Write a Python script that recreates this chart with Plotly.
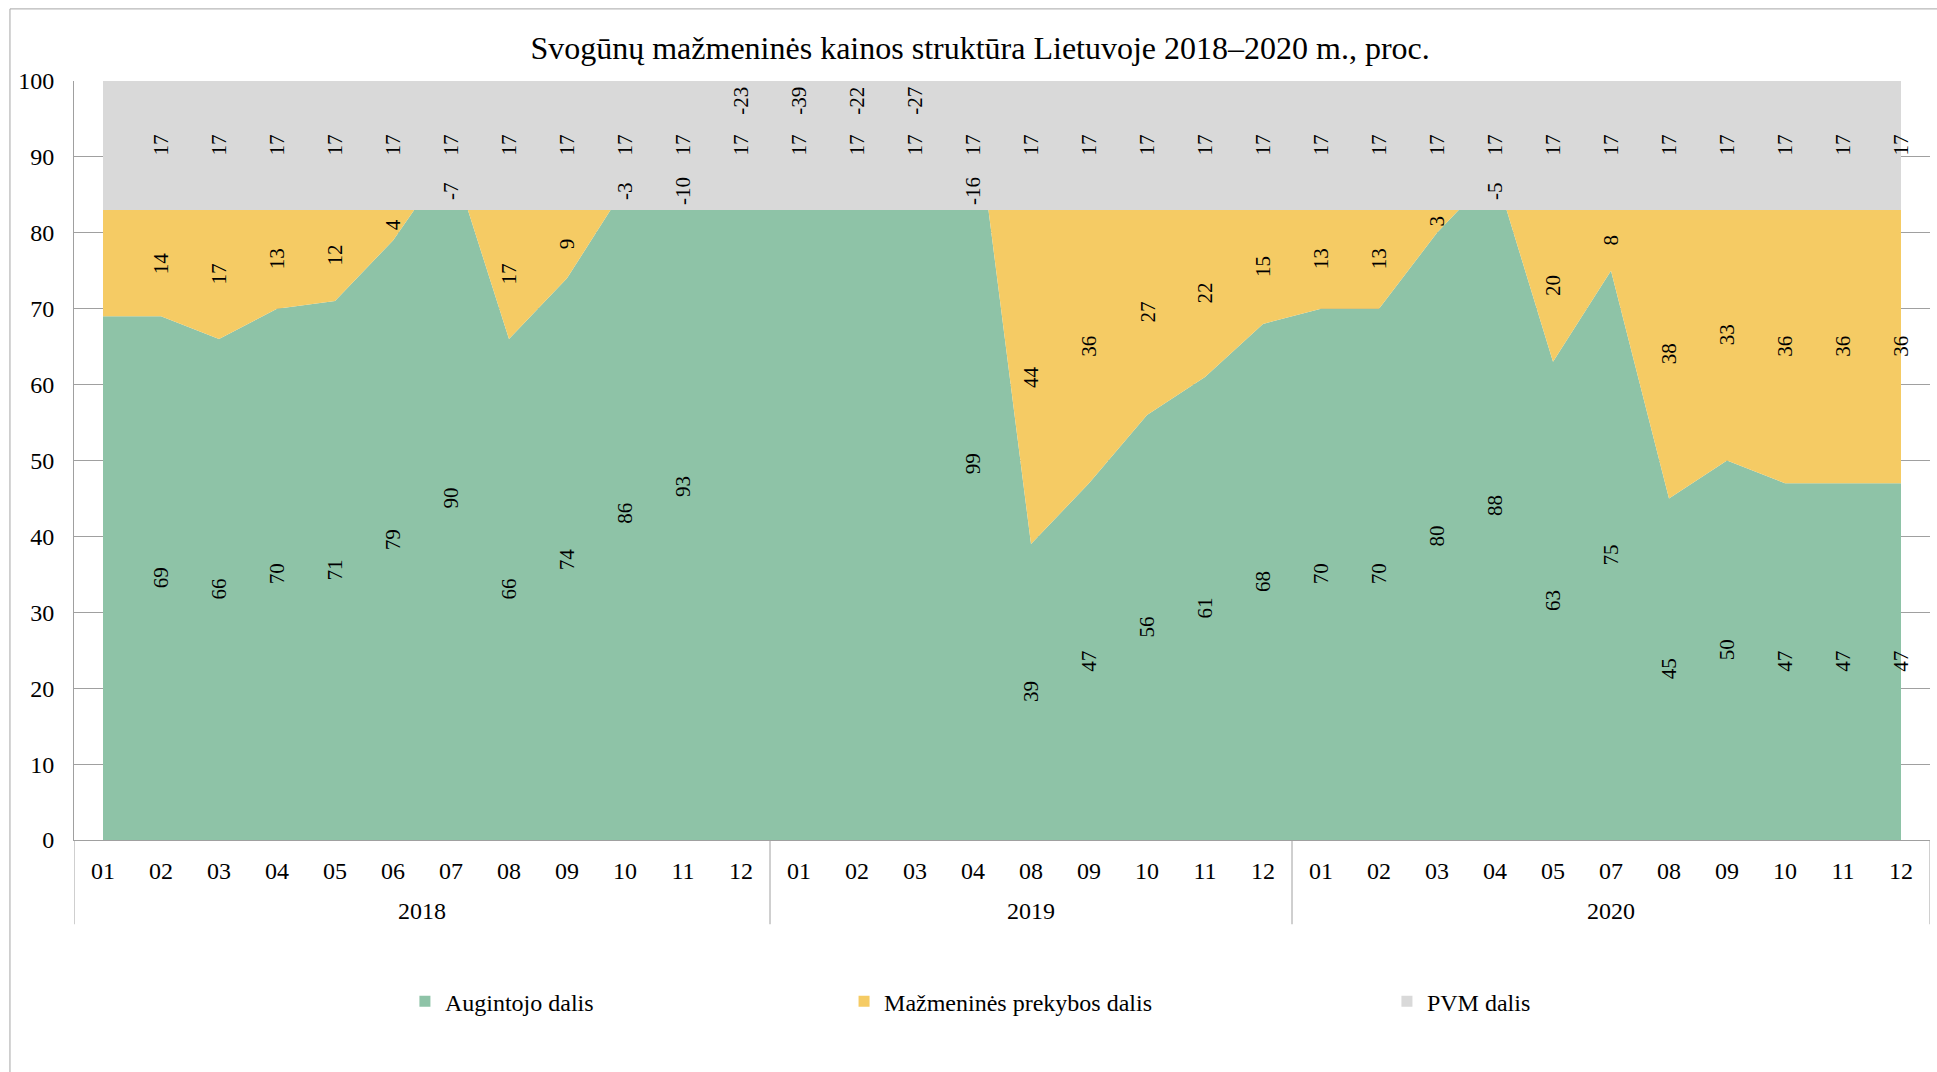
import plotly.graph_objects as go

# Category axis: year group and month of each observation
years = ["2018"] * 12 + ["2019"] * 9 + ["2020"] * 11
months = [
    "01", "02", "03", "04", "05", "06", "07", "08", "09", "10", "11", "12",
    "01", "02", "03", "04", "08", "09", "10", "11", "12",
    "01", "02", "03", "04", "05", "07", "08", "09", "10", "11", "12",
]

# Shares of the retail price, %
grower_share = [
    69, 69, 66, 70, 71, 79, 90, 66, 74, 86, 93, 106,
    122, 105, 110, 99, 39, 47, 56, 61, 68,
    70, 70, 80, 88, 63, 75, 45, 50, 47, 47, 47,
]
retail_share = [
    14, 14, 17, 13, 12, 4, -7, 17, 9, -3, -10, -23,
    -39, -22, -27, -16, 44, 36, 27, 22, 15,
    13, 13, 3, -5, 20, 8, 38, 33, 36, 36, 36,
]
vat_share = [
    17, 17, 17, 17, 17, 17, 17, 17, 17, 17, 17, 17,
    17, 17, 17, 17, 17, 17, 17, 17, 17,
    17, 17, 17, 17, 17, 17, 17, 17, 17, 17, 17,
]

series_names = ["Augintojo dalis", "Mažmeninės prekybos dalis", "PVM dalis"]
title_text = "Svogūnų mažmeninės kainos struktūra Lietuvoje 2018–2020 m., proc."

FONT = "Liberation Serif"
GREEN = "#8EC3A7"
YELLOW = "#F5CB64"
GREY = "#D9D9D9"
LINE = "#A0A0A0"

Y_MAX = 100
n = len(months)
pos = list(range(n))  # one slot per month on the category axis

fig = go.Figure()

# Stacked areas (drawn in order, VAT on top)
for name, vals, col in zip(series_names, [grower_share, retail_share, vat_share],
                           [GREEN, YELLOW, GREY]):
    fig.add_trace(go.Scatter(
        x=pos, y=vals, name=name, stackgroup="price", mode="none",
        fillcolor=col, showlegend=False,
        customdata=[f"{y}-{m}" for y, m in zip(years, months)],
        hovertemplate="%{customdata}: %{y}<extra>" + name + "</extra>",
    ))

# Legend swatches, one legend per entry so each can sit at its own spot
legend_ids = ["legend", "legend2", "legend3"]
for name, col, lg in zip(series_names, [GREEN, YELLOW, GREY], legend_ids):
    fig.add_trace(go.Scatter(
        x=[None], y=[None], name=name, mode="markers",
        marker=dict(symbol="square", size=11, color=col),
        legend=lg, showlegend=True, hoverinfo="skip",
    ))

# Rotated value labels in the middle of each band
label_font = dict(family=FONT, size=21, color="#000000")
annotations = []
for i in range(1, n):  # the opening month carries no labels
    g, r, v = grower_share[i], retail_share[i], vat_share[i]
    top_gr = g + r
    if g <= Y_MAX:
        annotations.append(dict(x=pos[i], y=g / 2, text=str(g)))
    if r >= 0:
        y_r = g + r / 2
    elif g <= Y_MAX:
        y_r = top_gr + 2.5
    else:
        y_r = 97.4
    annotations.append(dict(x=pos[i], y=y_r, text=str(r)))
    annotations.append(dict(x=pos[i], y=top_gr + v / 2, text=str(v)))

for a in annotations:
    a.update(xref="x", yref="y", showarrow=False, textangle=-90,
             font=label_font, xanchor="center", yanchor="middle")

# Year group labels and the dividers between groups
group_years = list(dict.fromkeys(years))
shapes = []
DIV_BOTTOM = -0.111
edges = [-0.5]
for yr in group_years:
    idx = [i for i, y in enumerate(years) if y == yr]
    annotations.append(dict(
        x=(idx[0] + idx[-1]) / 2, y=-0.0935, xref="x", yref="paper",
        text=yr, showarrow=False, xanchor="center", yanchor="middle",
        font=dict(family=FONT, size=24, color="#000000"),
    ))
    edges.append(idx[-1] + 0.5)
for e in edges:
    shapes.append(dict(type="line", xref="x", yref="paper", x0=e, x1=e,
                       y0=DIV_BOTTOM, y1=0, line=dict(color=LINE, width=1)))

# Outer frame of the chart
shapes.append(dict(type="rect", xref="paper", yref="paper",
                   x0=-0.0345, x1=1.2, y0=-1.0, y1=1.095,
                   line=dict(color="#A6A6A6", width=1),
                   fillcolor="rgba(0,0,0,0)", layer="below"))

fig.update_layout(
    width=1937, height=1072,
    margin=dict(l=74, r=7, t=81, b=232),
    paper_bgcolor="#FFFFFF", plot_bgcolor="#FFFFFF",
    font=dict(family=FONT, size=24, color="#000000"),
    title=dict(text=title_text, x=0.506, xanchor="center", y=0.955,
               yanchor="middle", font=dict(family=FONT, size=32, color="#000000")),
    annotations=annotations,
    shapes=shapes,
    xaxis=dict(
        range=[-0.5, n - 0.5], tickmode="array", tickvals=pos, ticktext=months,
        showline=True, linecolor=LINE, linewidth=1, showgrid=False,
        zeroline=False, ticks="", ticklabelstandoff=9,
        tickfont=dict(family=FONT, size=24, color="#000000"),
    ),
    yaxis=dict(
        range=[0, Y_MAX], dtick=10, showline=True, linecolor=LINE, linewidth=1,
        showgrid=True, gridcolor=LINE, gridwidth=1, ticks="", zeroline=False,
        tickfont=dict(family=FONT, size=24, color="#000000"),
        ticklabelstandoff=14,
    ),
)

legend_style = dict(orientation="h", yanchor="middle", y=-0.213, xanchor="left",
                    bgcolor="rgba(0,0,0,0)",
                    font=dict(family=FONT, size=24, color="#000000"))
fig.update_layout(
    legend=dict(legend_style, x=0.1783),
    legend2=dict(legend_style, x=0.4149),
    legend3=dict(legend_style, x=0.7074),
)

fig.write_html("out.html")
